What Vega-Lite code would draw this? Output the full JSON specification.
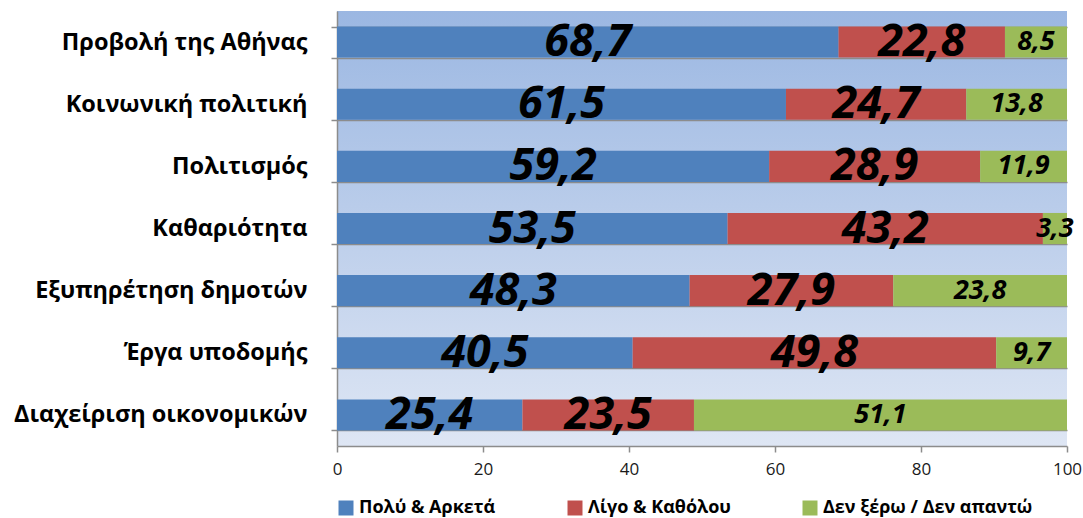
{
  "$schema": "https://vega.github.io/schema/vega-lite/v6.json",
  "autosize": "none",
  "width": 730,
  "height": 435,
  "padding": {"left": 337, "top": 11, "right": 16, "bottom": 72},
  "background": "white",
  "view": {
    "stroke": null,
    "fill": {"gradient": "linear", "x1": 0, "y1": 0, "x2": 0, "y2": 1,
      "stops": [{"offset": 0, "color": "#9bb7e2"}, {"offset": 1, "color": "#dee6f4"}]}
  },
  "config": {
    "locale": {"number": {"decimal": ",", "thousands": ".", "grouping": [3], "currency": ["", "€"]}},
    "font": "Open Sans"
  },
  "data": {"values": [
    {"cat": "Προβολή της Αθήνας", "answer": "Πολύ & Αρκετά", "k": 1, "value": 68.7},
    {"cat": "Προβολή της Αθήνας", "answer": "Λίγο & Καθόλου", "k": 2, "value": 22.8},
    {"cat": "Προβολή της Αθήνας", "answer": "Δεν ξέρω / Δεν απαντώ", "k": 3, "value": 8.5},
    {"cat": "Κοινωνική πολιτική", "answer": "Πολύ & Αρκετά", "k": 1, "value": 61.5},
    {"cat": "Κοινωνική πολιτική", "answer": "Λίγο & Καθόλου", "k": 2, "value": 24.7},
    {"cat": "Κοινωνική πολιτική", "answer": "Δεν ξέρω / Δεν απαντώ", "k": 3, "value": 13.8},
    {"cat": "Πολιτισμός", "answer": "Πολύ & Αρκετά", "k": 1, "value": 59.2},
    {"cat": "Πολιτισμός", "answer": "Λίγο & Καθόλου", "k": 2, "value": 28.9},
    {"cat": "Πολιτισμός", "answer": "Δεν ξέρω / Δεν απαντώ", "k": 3, "value": 11.9},
    {"cat": "Καθαριότητα", "answer": "Πολύ & Αρκετά", "k": 1, "value": 53.5},
    {"cat": "Καθαριότητα", "answer": "Λίγο & Καθόλου", "k": 2, "value": 43.2},
    {"cat": "Καθαριότητα", "answer": "Δεν ξέρω / Δεν απαντώ", "k": 3, "value": 3.3},
    {"cat": "Εξυπηρέτηση δημοτών", "answer": "Πολύ & Αρκετά", "k": 1, "value": 48.3},
    {"cat": "Εξυπηρέτηση δημοτών", "answer": "Λίγο & Καθόλου", "k": 2, "value": 27.9},
    {"cat": "Εξυπηρέτηση δημοτών", "answer": "Δεν ξέρω / Δεν απαντώ", "k": 3, "value": 23.8},
    {"cat": "Έργα υποδομής", "answer": "Πολύ & Αρκετά", "k": 1, "value": 40.5},
    {"cat": "Έργα υποδομής", "answer": "Λίγο & Καθόλου", "k": 2, "value": 49.8},
    {"cat": "Έργα υποδομής", "answer": "Δεν ξέρω / Δεν απαντώ", "k": 3, "value": 9.7},
    {"cat": "Διαχείριση οικονομικών", "answer": "Πολύ & Αρκετά", "k": 1, "value": 25.4},
    {"cat": "Διαχείριση οικονομικών", "answer": "Λίγο & Καθόλου", "k": 2, "value": 23.5},
    {"cat": "Διαχείριση οικονομικών", "answer": "Δεν ξέρω / Δεν απαντώ", "k": 3, "value": 51.1}
  ]},
  "encoding": {
    "y": {
      "field": "cat", "type": "nominal", "sort": null, "title": null,
      "scale": {"paddingInner": 0.5, "paddingOuter": 0.25},
      "axis": {
        "tickBand": "extent", "grid": true, "gridColor": "#8c8c8c", "gridWidth": 1.5,
        "domainColor": "#8c8c8c", "domainWidth": 1.5, "tickColor": "#8c8c8c", "tickWidth": 1.5, "tickSize": 6,
        "labelFont": "Open Sans", "labelFontWeight": "bold", "labelFontSize": 23.5, "labelColor": "#000000",
        "labelPadding": 24, "labelLimit": 400
      }
    },
    "x": {
      "field": "value", "type": "quantitative", "stack": "zero", "title": null,
      "scale": {"domain": [0, 100], "nice": false},
      "axis": {
        "values": [0, 20, 40, 60, 80, 100], "grid": false, "labelFlush": false, "labelOverlap": false,
        "domainColor": "#8c8c8c", "domainWidth": 1.5, "tickColor": "#8c8c8c", "tickWidth": 1.5, "tickSize": 6,
        "labelFont": "Open Sans", "labelFontSize": 17, "labelColor": "#1a1a1a", "labelPadding": 9
      }
    },
    "order": {"field": "k", "type": "quantitative"}
  },
  "layer": [
    {
      "mark": {"type": "bar"},
      "encoding": {
        "color": {
          "field": "answer", "type": "nominal", "title": null,
          "scale": {"domain": ["Πολύ & Αρκετά", "Λίγο & Καθόλου", "Δεν ξέρω / Δεν απαντώ"], "range": ["#4f81bd", "#c0504d", "#9bbb59"]},
          "legend": {
            "orient": "bottom", "direction": "horizontal", "symbolType": "square", "symbolSize": 225,
            "symbolStrokeWidth": 0, "labelFont": "Open Sans", "labelFontWeight": "bold", "labelFontSize": 18,
            "labelColor": "#000000", "columnPadding": 70, "offset": 22, "labelLimit": 400, "labelOffset": 4
          }
        }
      }
    },
    {
      "mark": {"type": "text", "font": "Open Sans", "fontWeight": "bold", "fontStyle": "italic", "color": "#000000", "baseline": "middle", "align": "center"},
      "encoding": {
        "x": {"field": "value", "type": "quantitative", "stack": "zero", "bandPosition": 0.5},
        "text": {"field": "value", "type": "quantitative", "format": ".1f"},
        "size": {"condition": {"test": "datum.k === 3", "value": 27}, "value": 45}
      }
    }
  ]
}
